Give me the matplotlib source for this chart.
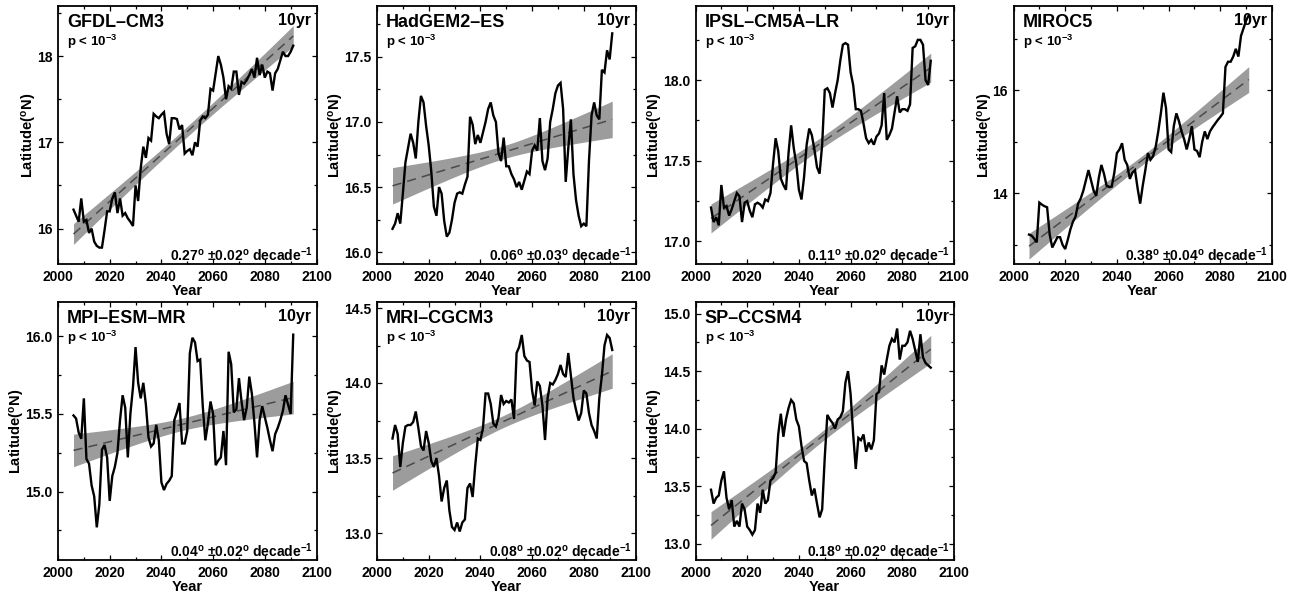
import matplotlib
matplotlib.use("Agg")
import matplotlib.pyplot as plt
from matplotlib.ticker import MultipleLocator
import numpy as np

plt.rcParams['font.family'] = ['Liberation Sans', 'DejaVu Sans']
plt.rcParams['font.weight'] = 'bold'
plt.rcParams['mathtext.fontset'] = 'custom'
plt.rcParams['mathtext.rm'] = 'Liberation Sans:bold'
plt.rcParams['mathtext.it'] = 'Liberation Sans:bold'
plt.rcParams['mathtext.bf'] = 'Liberation Sans:bold'
plt.rcParams['mathtext.sf'] = 'Liberation Sans:bold'
plt.rcParams['mathtext.default'] = 'rm'

# ---- data: 10-yr running mean of the ITCZ latitude (deg N), 2006-2091 ----
years = list(range(2006, 2092))

gfdl_cm3 = [16.22, 16.15, 16.08, 16.35, 16.08, 16.10, 15.95, 16.00, 15.85, 15.80,
            15.78, 15.78, 15.98, 16.20, 16.20, 16.35, 16.42, 16.18, 16.35, 16.15,
            16.18, 16.12, 16.08, 16.03, 16.50, 16.32, 16.70, 16.95, 16.82, 17.05,
            17.02, 17.33, 17.30, 17.28, 17.32, 17.35, 17.10, 16.98, 17.28, 17.28,
            17.27, 17.15, 17.20, 16.87, 16.90, 16.92, 16.85, 17.00, 16.95, 17.25,
            17.30, 17.28, 17.32, 17.62, 17.60, 17.80, 18.00, 17.90, 17.75, 17.50,
            17.65, 17.62, 17.82, 17.82, 17.55, 17.70, 17.68, 17.72, 17.78, 17.85,
            17.75, 17.98, 17.78, 17.90, 17.75, 17.82, 17.80, 17.60, 17.80, 17.85,
            17.95, 18.05, 18.00, 18.00, 18.05, 18.12]

hadgem2_es = [16.18, 16.22, 16.30, 16.22, 16.45, 16.69, 16.80, 16.91, 16.84, 16.72,
              17.00, 17.20, 17.15, 16.97, 16.82, 16.62, 16.35, 16.28, 16.50, 16.45,
              16.24, 16.12, 16.15, 16.25, 16.38, 16.45, 16.46, 16.45, 16.52, 16.58,
              17.04, 16.98, 16.83, 16.90, 16.84, 16.92, 17.00, 17.10, 17.15, 17.05,
              17.00, 16.76, 16.70, 16.88, 16.66, 16.66, 16.60, 16.56, 16.50, 16.54,
              16.48, 16.55, 16.62, 16.60, 16.78, 16.82, 16.78, 17.03, 16.70, 16.63,
              16.72, 17.00, 17.10, 17.22, 17.28, 17.30, 17.10, 16.54, 16.80, 17.02,
              16.60, 16.40, 16.28, 16.20, 16.22, 16.20, 16.70, 17.05, 17.15, 17.05,
              17.02, 17.40, 17.38, 17.55, 17.48, 17.68]

ipsl_cm5a_lr = [17.21, 17.12, 17.15, 17.10, 17.35, 17.21, 17.22, 17.16, 17.20, 17.25,
                17.30, 17.28, 17.12, 17.24, 17.25, 17.19, 17.15, 17.23, 17.24, 17.23,
                17.21, 17.26, 17.25, 17.30, 17.48, 17.64, 17.56, 17.39, 17.35, 17.32,
                17.55, 17.72, 17.58, 17.48, 17.32, 17.26, 17.40, 17.60, 17.70, 17.66,
                17.57, 17.46, 17.42, 17.60, 17.94, 17.95, 17.92, 17.83, 17.92, 18.00,
                18.12, 18.22, 18.23, 18.22, 18.05, 17.97, 17.82, 17.82, 17.81, 17.73,
                17.64, 17.61, 17.63, 17.60, 17.65, 17.67, 17.72, 17.92, 17.63, 17.66,
                17.70, 17.80, 17.90, 17.80, 17.82, 17.82, 17.81, 17.85, 18.20, 18.21,
                18.25, 18.25, 18.22, 18.00, 17.97, 18.12]

miroc5 = [13.20, 13.18, 13.12, 13.05, 13.82, 13.78, 13.75, 13.73, 13.20, 12.95,
          13.05, 13.15, 13.15, 13.00, 12.92, 13.10, 13.30, 13.45, 13.55, 13.80,
          13.90, 14.05, 14.25, 14.45, 14.25, 14.05, 13.95, 14.30, 14.55, 14.38,
          14.15, 14.12, 14.13, 14.40, 14.78, 14.85, 14.97, 14.65, 14.55, 14.28,
          14.40, 14.45, 14.10, 13.80, 14.15, 14.45, 14.78, 14.65, 14.72, 14.90,
          15.20, 15.55, 15.95, 15.65, 14.85, 14.80, 15.30, 15.55, 15.40, 15.20,
          15.05, 14.85, 15.05, 15.30, 14.85, 14.82, 14.70, 15.00, 15.20, 15.05,
          15.20, 15.28, 15.35, 15.42, 15.48, 15.55, 16.45, 16.55, 16.55, 16.65,
          16.80, 16.65, 17.05, 17.20, 17.35, 17.45]

mpi_esm_mr = [15.49, 15.47, 15.38, 15.34, 15.60, 15.21, 15.18, 15.04, 14.97, 14.77,
              14.92, 15.27, 15.30, 15.22, 14.94, 15.10, 15.16, 15.25, 15.46, 15.62,
              15.54, 15.22, 15.50, 15.67, 15.93, 15.70, 15.60, 15.70, 15.56, 15.35,
              15.29, 15.31, 15.43, 15.33, 15.06, 15.01, 15.05, 15.07, 15.10, 15.46,
              15.51, 15.57, 15.31, 15.31, 15.39, 15.89, 15.99, 15.96, 15.84, 15.85,
              15.55, 15.33, 15.44, 15.58, 15.50, 15.17, 15.20, 15.22, 15.39, 15.17,
              15.90, 15.82, 15.51, 15.53, 15.73, 15.58, 15.46, 15.54, 15.74, 15.63,
              15.44, 15.22, 15.46, 15.55, 15.48, 15.41, 15.33, 15.26, 15.37, 15.41,
              15.46, 15.52, 15.62, 15.56, 15.50, 16.01]

mri_cgcm3 = [13.63, 13.72, 13.66, 13.44, 13.60, 13.71, 13.72, 13.72, 13.74, 13.81,
             13.70, 13.58, 13.55, 13.68, 13.60, 13.48, 13.44, 13.50, 13.38, 13.21,
             13.30, 13.35, 13.15, 13.04, 13.02, 13.07, 13.01, 13.07, 13.09, 13.30,
             13.33, 13.24, 13.45, 13.63, 13.62, 13.70, 13.93, 13.93, 13.86, 13.73,
             13.71, 13.77, 13.92, 13.86, 13.88, 13.87, 13.89, 13.76, 14.20, 14.24,
             14.32, 14.18, 14.15, 14.14, 13.95, 13.85, 14.01, 13.98, 13.85, 13.62,
             13.90, 14.00, 13.99, 14.02, 14.06, 14.12, 14.06, 14.04, 14.20, 14.05,
             13.90, 13.82, 13.75, 13.80, 13.95, 13.93, 13.80, 13.72, 13.68, 13.63,
             13.90, 14.05, 14.25, 14.32, 14.30, 14.22]

sp_ccsm4 = [13.47, 13.35, 13.40, 13.42, 13.55, 13.63, 13.40, 13.30, 13.38, 13.15,
            13.20, 13.15, 13.35, 13.30, 13.15, 13.12, 13.08, 13.12, 13.35, 13.27,
            13.47, 13.35, 13.38, 13.55, 13.57, 13.62, 13.95, 14.13, 13.93, 14.08,
            14.18, 14.25, 14.22, 14.08, 14.02, 13.85, 13.72, 13.70, 13.55, 13.42,
            13.48, 13.35, 13.23, 13.30, 13.75, 14.12, 14.08, 14.05, 14.00, 14.08,
            14.10, 14.15, 14.40, 14.50, 14.30, 13.95, 13.65, 13.92, 13.90, 13.95,
            13.80, 13.88, 13.82, 13.90, 14.30, 14.32, 14.55, 14.47, 14.60, 14.72,
            14.78, 14.75, 14.87, 14.60, 14.72, 14.72, 14.75, 14.85, 14.78, 14.68,
            14.58, 14.82, 14.62, 14.57, 14.55, 14.53]

model_names = ["GFDL–CM3", "HadGEM2–ES", "IPSL–CM5A–LR", "MIROC5",
               "MPI–ESM–MR", "MRI–CGCM3", "SP–CCSM4"]
series = [gfdl_cm3, hadgem2_es, ipsl_cm5a_lr, miroc5,
          mpi_esm_mr, mri_cgcm3, sp_ccsm4]

# linear trend (deg per decade) and its uncertainty
trend_slope = [0.27, 0.06, 0.11, 0.38, 0.04, 0.08, 0.18]
trend_err = [0.02, 0.03, 0.02, 0.04, 0.02, 0.02, 0.02]
# fitted value at the middle of the period
trend_mid = [17.085, 16.765, 17.61, 14.59, 15.435, 13.74, 13.925]
# half-width of the confidence band at the ends and at the centre
band_end = [0.12, 0.14, 0.09, 0.25, 0.105, 0.115, 0.12]
band_mid = [0.06, 0.05, 0.035, 0.09, 0.04, 0.04, 0.045]

# axis settings
y_lo = [15.59, 15.91, 16.86, 12.63, 14.56, 12.82, 12.86]
y_hi = [18.58, 17.89, 18.46, 17.63, 16.22, 14.54, 15.10]
y_major = [1.0, 0.5, 0.5, 2.0, 0.5, 0.5, 0.5]
y_fmt = ["%d", "%.1f", "%.1f", "%d", "%.1f", "%.1f", "%.1f"]

W, H = 1297, 600
fig = plt.figure(figsize=(W / 100, H / 100), dpi=100)

col_left = [58, 377, 695.5, 1013.5]
row_top = [6, 302]
ax_w, ax_h = 258.5, 258

yrs = np.array(years, dtype=float)
xmid = 0.5 * (yrs[0] + yrs[-1])

for i, name in enumerate(model_names):
    r, c = divmod(i, 4)
    left = col_left[c] / W
    bottom = 1 - (row_top[r] + ax_h) / H
    ax = fig.add_axes([left, bottom, ax_w / W, ax_h / H])

    vals = np.array(series[i])
    fit = trend_mid[i] + trend_slope[i] / 10.0 * (yrs - xmid)
    frac = (yrs - xmid) / (yrs[-1] - xmid)
    hw = np.sqrt(band_mid[i] ** 2 + (band_end[i] ** 2 - band_mid[i] ** 2) * frac ** 2)

    ax.fill_between(yrs, fit - hw, fit + hw, color='#9c9c9c', lw=0, zorder=1)
    ax.plot(yrs, fit, color='#4a4a4a', lw=1.1, dashes=(6, 4), zorder=2)
    ax.plot(yrs, vals, color='black', lw=1.7, zorder=3, solid_joinstyle='miter')

    ax.set_xlim(2000, 2100)
    ax.set_ylim(y_lo[i], y_hi[i])
    ax.xaxis.set_major_locator(MultipleLocator(20))
    ax.xaxis.set_minor_locator(MultipleLocator(10))
    ax.yaxis.set_major_locator(MultipleLocator(y_major[i]))
    ax.yaxis.set_minor_locator(MultipleLocator(y_major[i] / 2))
    ax.yaxis.set_major_formatter(plt.FormatStrFormatter(y_fmt[i]))
    ax.tick_params(which='both', direction='in', top=True, right=True,
                   labelsize=10, width=0.9, pad=4)
    ax.tick_params(which='major', length=3.5)
    ax.tick_params(which='minor', length=2)
    for lab in ax.get_xticklabels() + ax.get_yticklabels():
        lab.set_fontweight('bold')
    for sp in ax.spines.values():
        sp.set_linewidth(1.3)

    ax.set_xlabel("Year", fontsize=10.5, fontweight='bold', labelpad=0)
    ax.set_ylabel(r"Latitude($^{\rm o}$N)", fontsize=10.5, fontweight='bold',
                  labelpad=-1.5)

    ax.text(0.035, 0.92, name, transform=ax.transAxes, fontsize=13,
            fontweight='bold', ha='left', va='baseline')
    ax.text(0.035, 0.846, r"p < 10$^{-3}$", transform=ax.transAxes, fontsize=9.5,
            fontweight='bold', ha='left', va='baseline')
    ax.text(0.98, 0.925, "10yr", transform=ax.transAxes, fontsize=11.5,
            fontweight='bold', ha='right', va='baseline')
    ax.text(0.986, 0.013,
            r"%.2f$^{\rm o}$ ±%.2f$^{\rm o}$ decade$^{-1}$" % (trend_slope[i], trend_err[i]),
            transform=ax.transAxes, fontsize=10, fontweight='bold',
            ha='right', va='baseline')

fig.savefig("out.png", dpi=100)
